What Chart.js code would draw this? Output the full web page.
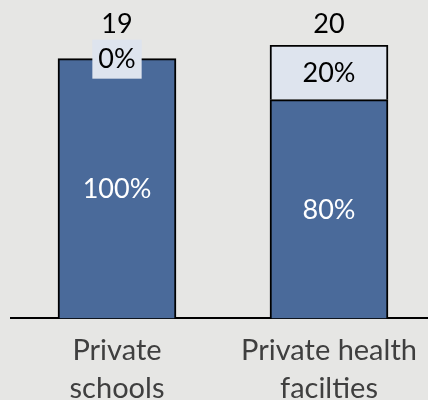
<!DOCTYPE html>
<html>
<head>
<meta charset="utf-8">
<script src="https://cdn.jsdelivr.net/npm/chart.js@4"></script>
<style>
  html, body { margin: 0; padding: 0; background: #e6e6e4; overflow: hidden; }
  #wrap { position: absolute; left: 0; top: 0; width: 435px; height: 400px; }
</style>
</head>
<body>
<div id="wrap"><canvas id="chart"></canvas></div>
<script>
const categories = [['Private', 'schools'], ['Private health', 'facilties']];
const yesCounts = [19, 16];
const noCounts = [0, 4];
const totals = [19, 20];
const yesLabels = ['100%', '80%'];
const noLabels = ['0%', '20%'];

const darkBlue = 'rgb(74, 106, 154)';
const lightBlue = 'rgb(222, 228, 238)';
const font = 'Lato';

// labels inside segments and totals on top
const labelPlugin = {
    id: 'labels',
    afterDatasetsDraw(chart) {
        const ctx = chart.ctx;
        ctx.save();
        ctx.font = '27px ' + font;
        ctx.textAlign = 'center';
        ctx.textBaseline = 'middle';

        chart.data.datasets.forEach((ds, i) => {
            const meta = chart.getDatasetMeta(i);
            meta.data.forEach((bar, j) => {
                const text = ds.valueLabels[j];
                const cy = (bar.y + bar.base) / 2;
                if (ds.boxLabels) {
                    const w = ctx.measureText(text).width + 12;
                    ctx.fillStyle = lightBlue;
                    ctx.fillRect(bar.x - w / 2, cy - 19, w, 39);
                }
                ctx.fillStyle = ds.textColor;
                ctx.fillText(text, bar.x, cy + 1);
            });
        });

        const meta0 = chart.getDatasetMeta(0);
        ctx.fillStyle = '#000';
        ctx.textBaseline = 'alphabetic';
        meta0.data.forEach((bar, j) => {
            ctx.fillText(String(totals[j]), bar.x, 33);
        });
        ctx.restore();
    }
};

new Chart(document.getElementById('chart'), {
    type: 'bar',
    data: {
        labels: categories,
        datasets: [
            {
                data: yesCounts,
                valueLabels: yesLabels,
                textColor: '#fff',
                backgroundColor: darkBlue,
                borderColor: '#000',
                borderWidth: { top: 2, left: 2, right: 2, bottom: 0 },
                borderSkipped: false,
                barThickness: 118
            },
            {
                data: noCounts,
                valueLabels: noLabels,
                textColor: '#000',
                boxLabels: true,
                backgroundColor: lightBlue,
                borderColor: '#000',
                borderWidth: { top: 2, left: 2, right: 2, bottom: 0 },
                borderSkipped: false,
                barThickness: 118
            }
        ]
    },
    options: {
        responsive: true,
        maintainAspectRatio: false,
        animation: false,
        layout: { padding: { top: 45, left: 11, right: 0, bottom: -13 } },
        plugins: {
            legend: { display: false },
            tooltip: { enabled: false }
        },
        scales: {
            x: {
                stacked: true,
                grid: { display: false },
                border: { display: true, color: '#000', width: 2 },
                ticks: {
                    color: '#3f3f3f',
                    padding: 5,
                    font: { family: font, size: 29, lineHeight: 1.32 }
                }
            },
            y: {
                stacked: true,
                display: false,
                min: 0,
                max: 20
            }
        }
    },
    plugins: [labelPlugin]
});
</script>
</body>
</html>
